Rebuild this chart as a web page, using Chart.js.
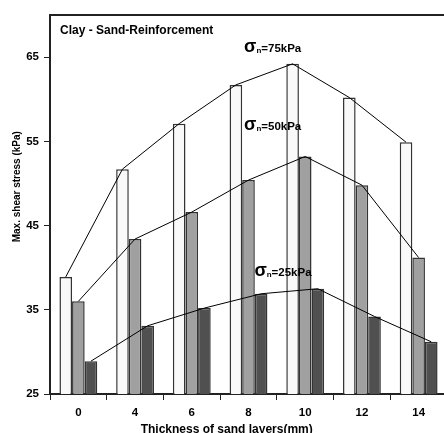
<!DOCTYPE html>
<html><head><meta charset="utf-8">
<script src="https://cdn.jsdelivr.net/npm/chart.js@4"></script>
<style>html,body{margin:0;padding:0;background:#fff;overflow:hidden;width:444px;height:433px}canvas{display:block}</style>
</head><body>
<canvas id="c" width="447" height="433"></canvas>
<script>
const categories = ['0','4','6','8','10','12','14'];
const s75 = [38.9, 51.7, 57.1, 61.7, 64.2, 60.2, 54.9];
const s50 = [36.0, 43.4, 46.6, 50.4, 53.2, 49.8, 41.2];
const s25 = [28.9, 33.1, 35.2, 36.9, 37.5, 34.2, 31.2];
const yTicks = [25, 35, 45, 55, 65];
const seriesNames = ['75kPa', '50kPa', '25kPa'];
const chartTitle = 'Clay - Sand-Reinforcement';
const xTitle = 'Thickness of sand layers(mm)';
const yTitle = 'Max. shear stress (kPa)';

const FONT = '"Liberation Sans", Arial, sans-serif';
const series = [s75, s50, s25];
const fills = ['#f9f9f9', '#a0a0a0', '#505050'];

const datasets = series.map((s, k) => ({
  label: 'σn=' + seriesNames[k], data: s,
  backgroundColor: fills[k], borderColor: '#333', borderWidth: 1.5, borderSkipped: false,
  categoryPercentage: 0.667, barPercentage: 1.0
}));

// connecting lines through the tops of each series' bars (positions taken from the chart's bar elements)
const connectors = {
  id: 'connectors',
  afterDatasetsDraw(chart) {
    const ctx = chart.ctx;
    ctx.save();
    ctx.strokeStyle = '#000'; ctx.lineWidth = 1;
    chart.data.datasets.forEach((d, k) => {
      const els = chart.getDatasetMeta(k).data;
      ctx.beginPath();
      els.forEach((el, i) => { if (i === 0) ctx.moveTo(el.x, el.y); else ctx.lineTo(el.x, el.y); });
      ctx.stroke();
    });
    ctx.restore();
  }
};

const deco = {
  id: 'deco',
  afterDraw(chart) {
    const ctx = chart.ctx, a = chart.chartArea;
    const xs = chart.scales.x, ys = chart.scales.y;
    ctx.save();
    ctx.strokeStyle = '#222'; ctx.lineWidth = 2;
    ctx.beginPath(); ctx.moveTo(a.left - 1, a.top); ctx.lineTo(chart.width, a.top); ctx.stroke();
    ctx.fillStyle = '#000';
    ctx.textBaseline = 'alphabetic'; ctx.textAlign = 'left';
    ctx.font = 'bold 12px ' + FONT;
    ctx.fillText(chartTitle, a.left + 10, a.top + 19);
    ctx.textAlign = 'center'; ctx.textBaseline = 'middle';
    ctx.font = 'bold 12px ' + FONT;
    ctx.fillText(xTitle, 226.7, 429.5);
    ctx.save();
    ctx.translate(17.5, 186.7); ctx.rotate(-Math.PI / 2);
    ctx.font = 'bold 10px ' + FONT;
    ctx.fillText(yTitle, 0, 0);
    ctx.restore();
    // series labels, anchored in category / value units
    const step = xs.getPixelForValue(1) - xs.getPixelForValue(0);
    const anchors = [[3 - 0.078, 65.6], [3 - 0.078, 56.4], [3 + 0.104, 39.0]];
    ctx.textAlign = 'left'; ctx.textBaseline = 'alphabetic';
    anchors.forEach((p, k) => {
      let x = xs.getPixelForValue(0) + p[0] * step;
      const y = ys.getPixelForValue(p[1]);
      ctx.font = 'bold 18px ' + FONT;
      ctx.fillText('σ', x, y);
      x += ctx.measureText('σ').width;
      ctx.font = 'bold 8px ' + FONT;
      ctx.fillText('n', x, y + 1);
      x += ctx.measureText('n').width;
      ctx.font = 'bold 11.5px ' + FONT;
      ctx.fillText('=' + seriesNames[k], x, y);
    });
    ctx.restore();
  }
};

new Chart(document.getElementById('c'), {
  type: 'bar',
  data: { labels: categories, datasets },
  options: {
    responsive: false, animation: false,
    layout: { padding: { top: 15, left: 0, right: 0, bottom: 0 } },
    plugins: { legend: { display: false }, tooltip: { enabled: false }, title: { display: false } },
    scales: {
      x: {
        type: 'category', offset: true,
        grid: { offset: true, drawOnChartArea: false, drawTicks: true, tickLength: 6, color: '#222', lineWidth: 1 },
        border: { display: true, width: 2, color: '#222' },
        ticks: { font: { family: FONT, size: 11.5, weight: 'bold' }, color: '#000', padding: 6 },
        afterFit: s => { s.height = 39; }
      },
      y: {
        type: 'linear', min: 25, max: 70,
        afterBuildTicks: s => { s.ticks = yTicks.map(v => ({ value: v })); },
        grid: { drawOnChartArea: false, drawTicks: true, tickLength: 6, color: '#222', lineWidth: 1 },
        border: { display: true, width: 2, color: '#222' },
        ticks: { font: { family: FONT, size: 11.5, weight: 'bold' }, color: '#000', padding: 5 },
        afterFit: s => { s.width = 50; }
      }
    }
  },
  plugins: [connectors, deco]
});
</script>
</body></html>
